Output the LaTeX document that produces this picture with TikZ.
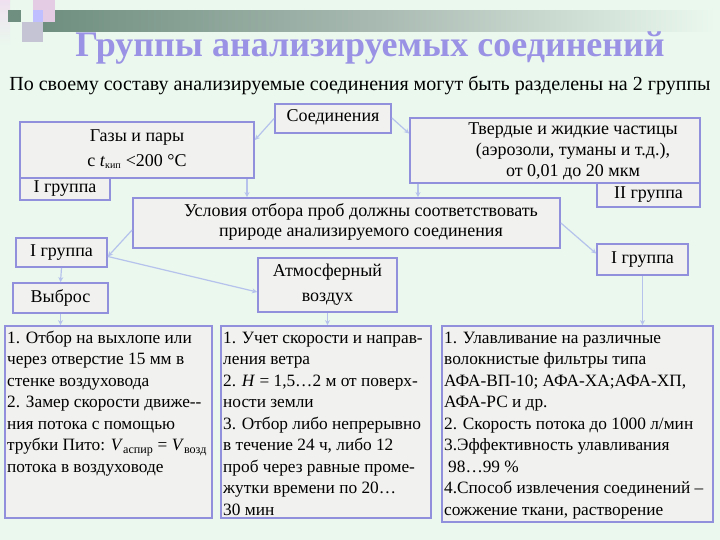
\documentclass[tikz,border=0pt]{standalone}
\usepackage{fontspec}
\setmainfont{Liberation Serif}[BoldFont={Liberation Serif Bold},ItalicFont={Liberation Serif Italic}]
\usetikzlibrary{arrows.meta}
\definecolor{bg}{HTML}{EAF8EE}
\definecolor{boxfill}{HTML}{F1F1EF}
\definecolor{boxline}{HTML}{9090DC}
\definecolor{arr}{HTML}{B6C2EC}
\definecolor{titlec}{HTML}{9A92E4}
\definecolor{barA}{HTML}{6F8F80}
\definecolor{barB}{HTML}{A9BAB2}
\pgfdeclarehorizontalshading{barshade}{100bp}{color(0bp)=(barA); color(25bp)=(barA); color(50bp)=(barB); color(75bp)=(bg); color(100bp)=(bg)}
\tikzset{
  box/.style={draw=boxline, line width=1.8pt, fill=boxfill, inner sep=0pt, rectangle},
  con/.style={draw=arr, line width=1.2pt, -{Stealth[length=5pt,width=5pt]}},
  lbl/.style={inner sep=0pt, align=center, font=\fontsize{18}{20}\selectfont},
  body/.style={inner sep=0pt, anchor=base west}
}
\newcommand{\bodytext}[2]{\parbox[t]{#1}{\fontsize{17.3}{21.5}\selectfont #2}}
\begin{document}
\begin{tikzpicture}[x=1pt,y=-1pt]
\useasboundingbox (0,0) rectangle (720,540);
\fill[bg] (0,0) rectangle (720,540);
% decoration
\shade[shading=barshade] (43,11) rectangle (715,32);
\shade[top color=white!70!violet!40, bottom color=bg] (0,0) rectangle (10,45);
\fill[violet!20!white] (33,0) rectangle (55,22);
\fill[barA] (8,10) rectangle (21,22);
\fill[blue!15!gray!40] (22,22) rectangle (43,42);
\fill[blue!25!white] (33,10) rectangle (43,22);
% title
\node[inner sep=0pt, anchor=base, text=titlec, font=\fontsize{36}{40}\selectfont\bfseries] (title) at (370,57) {Группы анализируемых соединений};
\node[inner sep=0pt, font=\fontsize{20}{22}\selectfont] (sub) at (360,86) {По своему составу анализируемые соединения могут быть разделены на 2 группы};
% boxes
\node[box, minimum width=116pt, minimum height=29pt] (soed) at (333,118.5) {};
\node[lbl] at (333,117) {Соединения};
\node[box, minimum width=234pt, minimum height=56pt] (gaz) at (137,150) {};
\node[lbl, font=\fontsize{18}{25}\selectfont] at (137,149) {Газы и пары\\с \textit{t}\textsubscript{\fontsize{10}{10}\selectfont кип} <200 °C};
\node[box, minimum width=90pt, minimum height=22pt] (gra) at (65,189) {};
\node[lbl] at (65,189) {I группа};
\node[box, minimum width=290pt, minimum height=65pt] (tv) at (555,150.5) {};
\node[lbl, font=\fontsize{18}{21}\selectfont] at (573,151) {Твердые и жидкие частицы\\(аэрозоли, туманы и т.д.),\\от 0,01 до 20 мкм};
\node[box, minimum width=103pt, minimum height=24pt] (grb) at (648.5,195) {};
\node[lbl] at (648.5,195) {II группа};
\node[box, minimum width=427pt, minimum height=50pt] (usl) at (346.5,223) {};
\node[lbl, font=\fontsize{18}{20}\selectfont] at (361,222) {Условия отбора проб должны соответствовать\\природе анализируемого соединения};
\node[box, minimum width=91pt, minimum height=29pt] (grc) at (61.5,252.5) {};
\node[lbl] at (61.5,252.5) {I группа};
\node[box, minimum width=95pt, minimum height=30pt] (vyb) at (60.5,298) {};
\node[lbl] at (60.5,298) {Выброс};
\node[box, minimum width=139pt, minimum height=54pt] (atm) at (327.5,285) {};
\node[lbl, font=\fontsize{18}{25}\selectfont] at (327.5,285) {Атмосферный\\воздух};
\node[box, minimum width=91pt, minimum height=31pt] (grd) at (642.5,259.5) {};
\node[lbl] at (642.5,259.5) {I группа};
% bottom boxes
\node[box, minimum width=207pt, minimum height=192pt] (b1) at (108.5,422) {};
\node[box, minimum width=210pt, minimum height=192pt] (b2) at (326,422) {};
\node[box, minimum width=271pt, minimum height=196pt] (b3) at (577.5,424) {};
\node[body] at (7,343) {\bodytext{205pt}{1. Отбор на выхлопе или\\через отверстие 15 мм в\\стенке воздуховода\\2. Замер скорости движе-{}-\\ния потока с помощью\\трубки Пито: \textit{V}\textsubscript{аспир} = \textit{V}\textsubscript{возд}\\потока в воздуховоде}};
\node[body] at (223,343) {\bodytext{208pt}{1. Учет скорости и направ-\\ления ветра\\2. \textit{H} = 1,5…2 м от поверх-\\ности земли\\3. Отбор либо непрерывно\\в течение 24 ч, либо 12\\проб через равные проме-\\жутки времени по 20…\\30 мин}};
\node[body] at (444,343) {\bodytext{268pt}{1. Улавливание на различные\\волокнистые фильтры типа\\АФА-ВП-10; АФА-ХА;АФА-ХП,\\АФА-РС и др.\\2. Скорость потока до 1000 л/мин\\3.Эффективность улавливания\\\hspace*{4pt}98…99 \%\\4.Способ извлечения соединений –\\сожжение ткани, растворение}};
% connectors
\draw[con] (soed.west) -- ([yshift=10pt]gaz.east);
\draw[con] ([yshift=0.5pt]soed.east) -- ([yshift=17pt]tv.west);
\draw[con] (gaz.south -| 247,0) -- (usl.north -| 247,0);
\draw[con] (tv.south -| 418,0) -- (usl.north -| 418,0);
\draw[con] ([yshift=-7pt]usl.west) -- ([yshift=-4pt]grc.east);
\draw[con] ([yshift=-4pt]grc.east) -- ([yshift=-7pt]atm.west);
\draw[con] (grc.south) -- (vyb.north);
\draw[con] (vyb.south) -- (b1.north -| vyb.south);
\draw[con] (atm.south) -- (b2.north -| atm.south);
\draw[con] ([yshift=0pt]usl.east) -- ([yshift=6pt]grd.west);
\draw[con] (grd.south) -- (b3.north -| grd.south);
\end{tikzpicture}
\end{document}
